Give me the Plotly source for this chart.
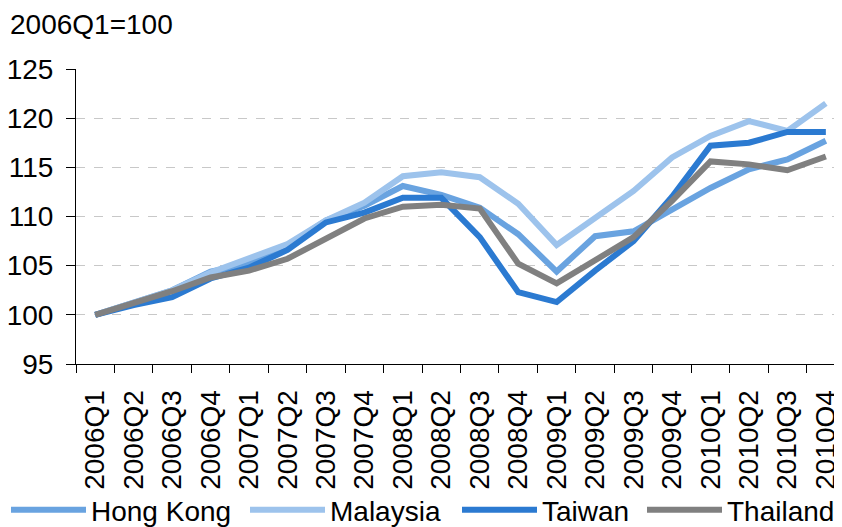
import plotly.graph_objects as go

quarters = ["2006Q1", "2006Q2", "2006Q3", "2006Q4", "2007Q1", "2007Q2", "2007Q3", "2007Q4",
            "2008Q1", "2008Q2", "2008Q3", "2008Q4", "2009Q1", "2009Q2", "2009Q3", "2009Q4",
            "2010Q1", "2010Q2", "2010Q3", "2010Q4"]
hong_kong = [100, 101.2, 102.5, 104.4, 105.2, 107.0, 109.6, 111.1, 113.1, 112.2,
             110.9, 108.2, 104.4, 108.0, 108.5, 110.7, 112.9, 114.8, 115.8, 117.7]
malaysia = [100, 101.2, 102.5, 104.3, 105.7, 107.2, 109.6, 111.4, 114.1, 114.5,
            114.0, 111.3, 107.1, 109.9, 112.6, 116.0, 118.2, 119.7, 118.7, 121.5]
taiwan = [100, 101.0, 101.8, 103.7, 104.8, 106.6, 109.4, 110.4, 111.9, 111.9,
          107.9, 102.3, 101.3, 104.5, 107.5, 112.0, 117.2, 117.5, 118.6, 118.6]
thailand = [100, 101.2, 102.4, 103.8, 104.5, 105.7, 107.8, 109.8, 111.0, 111.2,
            110.8, 105.2, 103.2, 105.5, 107.9, 111.6, 115.6, 115.3, 114.7, 116.1]
y_ticks = [95, 100, 105, 110, 115, 120, 125]

series = [("Hong Kong", hong_kong, "#69A3E0"),
          ("Malaysia", malaysia, "#9DC3EC"),
          ("Taiwan", taiwan, "#2B7AD1"),
          ("Thailand", thailand, "#808080")]

# page has an 8px body margin, so the figure is drawn 8px down/right
W, H = 834, 519
L, T, PW, PH = 68, 61, 766, 295
FONT = "Liberation Sans, Arial, sans-serif"

legend_ids = ["legend", "legend2", "legend3", "legend4"]
legend_text_x = [91, 330, 542, 727]   # page x where each legend label starts

fig = go.Figure()
for (name, vals, col), lid in zip(series, legend_ids):
    fig.add_trace(go.Scatter(x=quarters, y=vals, name=name, mode="lines",
                             line=dict(color=col, width=6), legend=lid))

legends = {}
for lid, tx in zip(legend_ids, legend_text_x):
    x0 = tx - 8 - 85  # figure px of legend box left
    legends[lid] = dict(orientation="h", x=(x0 - L) / PW, y=-(502 - T - PH) / PH,
                        xanchor="left", yanchor="middle",
                        font=dict(size=28, family=FONT, color="black"),
                        itemwidth=75, bgcolor="rgba(0,0,0,0)")

fig.update_layout(
    width=W, height=H,
    margin=dict(l=L, r=W - L - PW, t=T, b=H - T - PH, autoexpand=False),
    paper_bgcolor="white", plot_bgcolor="white",
    font=dict(family=FONT, size=28, color="black"),
    showlegend=True,
    annotations=[dict(text="2006Q1=100", xref="paper", yref="paper",
                      x=(1 - L) / PW, y=1 + T / PH, borderpad=0,
                      xanchor="left", yanchor="top", showarrow=False)],
    **legends,
)
fig.update_xaxes(type="category", range=[-0.5, 19.42], showgrid=False,
                 showline=True, linecolor="black", linewidth=1,
                 ticks="outside", ticklen=8, tickcolor="black", tickson="boundaries",
                 tickangle=-90, tickfont=dict(size=28), zeroline=False,
                 ticklabelstandoff=14)
fig.update_yaxes(range=[95, 125], tickvals=y_ticks, showgrid=True,
                 gridcolor="#C8C8C8", griddash="dash", gridwidth=1,
                 showline=True, linecolor="black", linewidth=1,
                 ticks="outside", ticklen=9, tickcolor="black",
                 tickfont=dict(size=28), zeroline=False, ticklabelstandoff=7)
fig.write_html("out.html")
